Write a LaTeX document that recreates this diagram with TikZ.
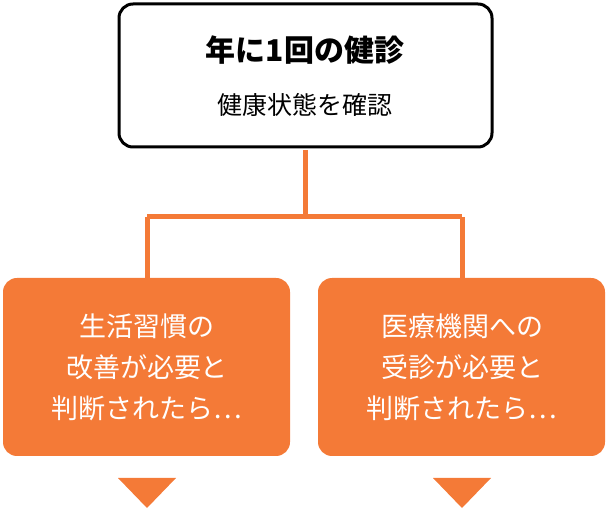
\documentclass[tikz,border=0pt]{standalone}
\usepackage{fontspec}
\setmainfont{Noto Sans CJK JP}
\definecolor{kenorange}{HTML}{F47A37}
\begin{document}
\begin{tikzpicture}[x=1pt,y=-1pt]
  \tikzset{
    topbox/.style={draw=black, line width=3pt, fill=white, rounded corners=14pt},
    resultbox/.style={fill=kenorange, rounded corners=14pt},
    resulttext/.style={text=white, font=\fontsize{27}{41}\selectfont, align=center},
    link/.style={draw=kenorange, line width=5pt},
    pointer/.style={fill=kenorange}
  }
  \useasboundingbox (0,0) rectangle (608,510);
  % connectors
  \coordinate (split) at (305,217);
  \coordinate (splitl) at (147,217);
  \coordinate (splitr) at (462,217);
  \draw[link] (305,150) -- (split);
  \draw[link] (splitl) -- (splitr);
  \draw[link] (splitl) -- (147,282);
  \draw[link] (splitr) -- (462,282);
  % top box
  \draw[topbox] (119,4) rectangle (492,147);
  \node[font=\fontsize{30}{34}\selectfont\bfseries] (title) at (305,50) {年に1回の健診};
  \node[font=\fontsize{25}{28}\selectfont] (sub) at (305,105) {健康状態を確認};
  % result boxes
  \fill[resultbox] (3,278) rectangle (290,456);
  \fill[resultbox] (318,278) rectangle (605,456);
  \node[resulttext] (left) at (147,367) {生活習慣の\\改善が必要と\\判断されたら…};
  \node[resulttext] (right) at (462,367) {医療機関への\\受診が必要と\\判断されたら…};
  % pointers
  \fill[pointer] (118,478) -- (176,478) -- (147,508) -- cycle;
  \fill[pointer] (433,478) -- (491,478) -- (462,508) -- cycle;
\end{tikzpicture}
\end{document}
